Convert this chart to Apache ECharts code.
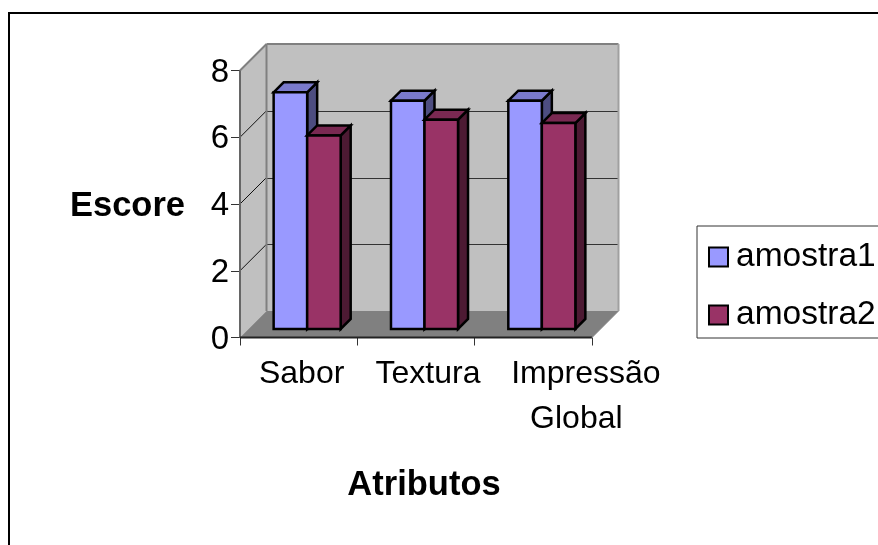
<!DOCTYPE html>
<html>
<head>
<meta charset="utf-8">
<style>
html, body { margin: 0; padding: 0; background: #fff; }
#main { width: 878px; height: 545px; }
</style>
<script src="https://cdn.jsdelivr.net/npm/echarts@6/dist/echarts.min.js"></script>
</head>
<body>
<div id="main"></div>
<script>
var categories = ['Sabor', 'Textura', 'Impressão\nGlobal'];
var amostra1 = [7.09, 6.84, 6.84];
var amostra2 = [5.8, 6.27, 6.17];
var yTicks = [0, 2, 4, 6, 8];

var font = '"Liberation Sans", Arial, sans-serif';
var depth = 26.5;    // profundidade do piso/paredes
var barOffset = 8.5; // recuo das barras
var barDepth = 10;

function poly(points, fill, stroke, lineWidth) {
    return {
        type : 'polygon',
        shape : { points : points },
        style : { fill : fill, stroke : stroke || null, lineWidth : lineWidth || 0, lineJoin : 'miter' }
    };
}

function line(x1, y1, x2, y2, color, w) {
    return {
        type : 'line',
        shape : { x1 : x1, y1 : y1, x2 : x2, y2 : y2 },
        style : { stroke : color, lineWidth : w }
    };
}

function renderWalls(params, api) {
    var cs = params.coordSys;
    var l = cs.x, r = cs.x + cs.width, t = cs.y, b = cs.y + cs.height;
    var ch = [
        poly([[l, b], [l + depth, b - depth], [l + depth, t - depth], [l, t]], '#C0C0C0'),
        poly([[l + depth, t - depth], [r + depth, t - depth], [r + depth, b - depth], [l + depth, b - depth]], '#C0C0C0'),
        poly([[l, b], [r, b], [r + depth, b - depth], [l + depth, b - depth]], '#808080')
    ];
    yTicks.forEach(function(v) {
        var y = api.coord([0, v])[1];
        if (v > 0 && v < 8) {
            ch.push(line(l, y, l + depth, y - depth, '#111', 1));
            ch.push(line(l + depth, Math.round(y - depth) + 0.5, r + depth, Math.round(y - depth) + 0.5, '#333', 1));
        }
    });
    ch.push(line(l + depth, t - depth, r + depth, t - depth, '#808080', 2));
    ch.push(line(r + depth, t - depth, r + depth, b - depth, '#a0a0a0', 2));
    ch.push(line(l, t, l + depth, t - depth, '#808080', 2));
    ch.push(line(l + depth, t - depth, l + depth, b - depth, '#808080', 2));
    ch.push(line(l, t, l, b, '#666', 2));
    ch.push(line(l, b, r, b, '#222', 2));
    ch.push(line(r, b, r + depth, b - depth, '#808080', 1));
    return { type : 'group', children : ch };
}

function barRenderer(seriesIndex, front, top, side) {
    return function(params, api) {
        var idx = api.value(0);
        var pt = api.coord([idx, api.value(1)]);
        var base = api.coord([idx, 0]);
        var w = api.size([1, 0])[0] * 0.2857;
        var x0 = pt[0] - w + w * seriesIndex + barOffset;
        var x1 = x0 + w;
        var y0 = pt[1] - barOffset;
        var y1 = base[1] - barOffset;
        var d = barDepth;
        return {
            type : 'group',
            children : [
                poly([[x1, y0], [x1 + d, y0 - d], [x1 + d, y1 - d], [x1, y1]], side, '#000', 2.5),
                poly([[x0, y0], [x0 + d, y0 - d], [x1 + d, y0 - d], [x1, y0]], top, '#000', 2.5),
                poly([[x0, y0], [x1, y0], [x1, y1], [x0, y1]], front, '#000', 2.5)
            ]
        };
    };
}

function seriesData(values) {
    return values.map(function(v, i) { return [i, v]; });
}

// os rotulos do original nao ficam centrados na categoria
function labelRich() {
    var pads = { s0 : 6, s1 : 24, s2 : 105, s3 : 86 };
    var rich = {};
    Object.keys(pads).forEach(function(k) {
        rich[k] = {
            fontFamily : font,
            fontSize : 32,
            lineHeight : 45,
            color : '#000',
            padding : [0, 0, 0, pads[k]]
        };
    });
    return rich;
}

function labelFormatter(value, index) {
    return value.split('\n').map(function(txt, i) {
        return '{s' + (index + i) + '|' + txt + '}';
    }).join('\n');
}

var myChart = echarts.init(document.getElementById('main'), null, { renderer : 'canvas' });
var option = {
    animation : false,
    backgroundColor : '#fff',
    textStyle : { fontFamily : font, color : '#000' },
    grid : { left : 240, right : 286, top : 70.5, bottom : 207.5, containLabel : false },
    legend : {
        orient : 'vertical',
        left : 697,
        top : 226,
        padding : [14, 12, 6, 11],
        itemWidth : 19,
        itemHeight : 19,
        itemGap : 24,
        itemStyle : { borderColor : '#000', borderWidth : 2 },
        borderColor : '#333',
        borderWidth : 1,
        backgroundColor : '#fff',
        icon : 'rect',
        data : ['amostra1', 'amostra2'],
        textStyle : { fontFamily : font, fontSize : 33.5, color : '#000', padding : [0, 0, 0, 3] }
    },
    xAxis : {
        type : 'category',
        data : categories,
        boundaryGap : true,
        name : 'Atributos',
        nameLocation : 'middle',
        nameGap : 130,
        nameTextStyle : { fontFamily : font, fontSize : 34.5, fontWeight : 'bold', color : '#000', padding : [0, 0, 0, 16] },
        axisLine : { show : false },
        axisTick : { show : true, length : 8, alignWithLabel : false, lineStyle : { color : '#333', width : 1 } },
        axisLabel : {
            interval : 0,
            margin : 14,
            hideOverlap : false,
            formatter : labelFormatter,
            rich : labelRich()
        },
        splitLine : { show : false }
    },
    yAxis : {
        type : 'value',
        min : 0,
        max : 8,
        interval : 2,
        name : '{t|Escore}',
        nameLocation : 'middle',
        nameRotate : 0,
        nameGap : 55,
        nameTextStyle : {
            rich : {
                t : { fontFamily : font, fontSize : 34.5, fontWeight : 'bold', color : '#000', padding : [4, 0, 0, 0] }
            }
        },
        axisLine : { show : false },
        axisTick : { show : true, length : 9, lineStyle : { color : '#333', width : 1 } },
        axisLabel : {
            margin : 11,
            formatter : '{v|{value}}',
            rich : {
                v : { color : '#000', fontFamily : font, fontSize : 33, padding : [4, 0, 0, 0] }
            }
        },
        splitLine : { show : false }
    },
    series : [{
        type : 'custom',
        name : 'paredes',
        silent : true,
        z : 1,
        renderItem : renderWalls,
        data : [[0, 0]],
        encode : { x : 0, y : 1 }
    }, {
        type : 'custom',
        name : 'amostra1',
        z : 2,
        itemStyle : { color : '#9999FF' },
        renderItem : barRenderer(0, '#9999FF', '#7A7ACC', '#4D4D80'),
        data : seriesData(amostra1),
        encode : { x : 0, y : 1 }
    }, {
        type : 'custom',
        name : 'amostra2',
        z : 3,
        itemStyle : { color : '#993366' },
        renderItem : barRenderer(1, '#993366', '#7A2952', '#4D1A33'),
        data : seriesData(amostra2),
        encode : { x : 0, y : 1 }
    }],
    graphic : [{
        type : 'polyline',
        silent : true,
        shape : { points : [[9, 545], [9, 13], [878, 13]] },
        style : { fill : null, stroke : '#000', lineWidth : 2 }
    }]
};
myChart.setOption(option);
</script>
</body>
</html>
